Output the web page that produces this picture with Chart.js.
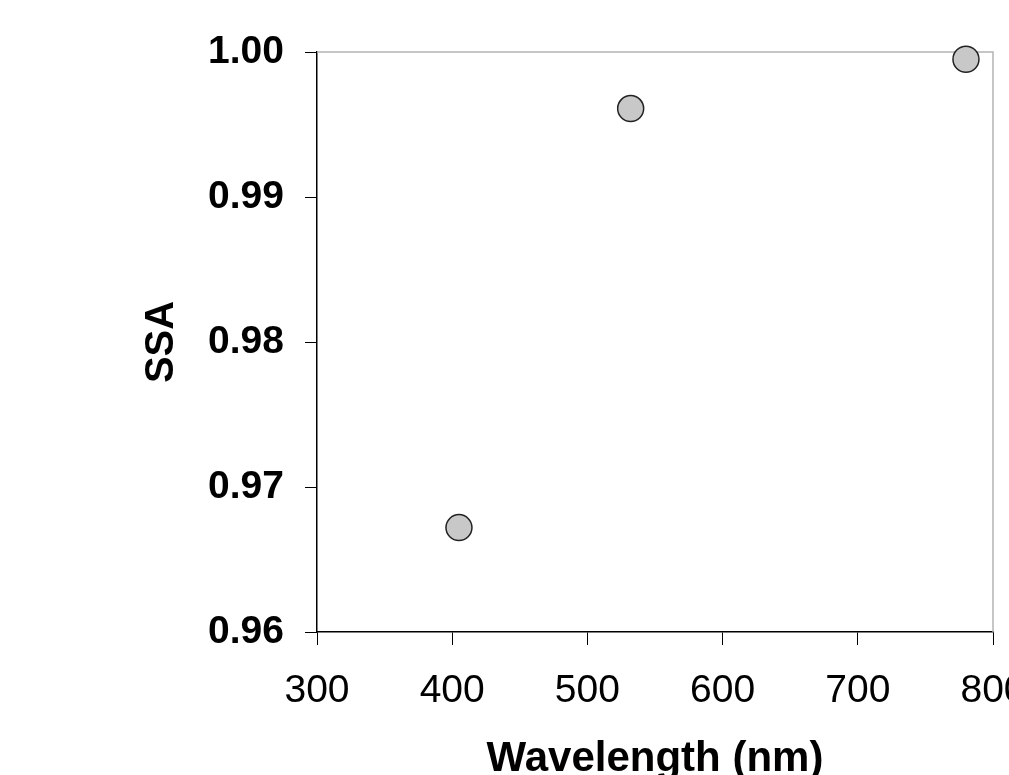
<!DOCTYPE html>
<html>
<head>
<meta charset="utf-8">
<script src="https://cdn.jsdelivr.net/npm/chart.js@4.4.1/dist/chart.umd.min.js"></script>
<style>
  html, body { margin: 0; padding: 0; background: #fff; overflow: hidden; }
  canvas { display: block; }
</style>
</head>
<body>
<canvas id="c" width="1009" height="775"></canvas>
<script>
// Data
const wavelengths = [405, 532, 780];          // nm
const ssaValues   = [0.9672, 0.9961, 0.9995]; // single scattering albedo
const xRange = [300, 800];
const xStep = 100;
const yRange = [0.96, 1.00];
const yStep = 0.01;
const xTitle = 'Wavelength (nm)';
const yTitle = 'SSA';

const points = wavelengths.map((w, i) => ({ x: w, y: ssaValues[i] }));

const frameLines = {
  id: 'frameLines',
  beforeDatasetsDraw(chart) {
    const { ctx, chartArea: a } = chart;
    ctx.save();
    ctx.strokeStyle = '#b4b4b4';
    ctx.lineWidth = 1.5;
    ctx.beginPath();
    ctx.moveTo(a.left, a.top);
    ctx.lineTo(a.right, a.top);
    ctx.lineTo(a.right, a.bottom);
    ctx.stroke();
    ctx.restore();
  }
};

new Chart(document.getElementById('c'), {
  type: 'scatter',
  data: {
    datasets: [{
      data: points,
      pointRadius: 13,
      pointHoverRadius: 13,
      pointBackgroundColor: '#c8c8c8',
      pointBorderColor: '#222',
      pointBorderWidth: 1.5,
      clip: false
    }]
  },
  options: {
    responsive: false,
    animation: false,
    events: [],
    layout: { padding: { top: 52, right: 16, left: 0, bottom: 0 } },
    plugins: { legend: { display: false }, tooltip: { enabled: false } },
    scales: {
      x: {
        type: 'linear',
        min: xRange[0], max: xRange[1],
        ticks: {
          stepSize: xStep,
          color: '#000',
          padding: 23,
          font: { family: 'Arial, "Liberation Sans", sans-serif', size: 39, weight: 'normal' },
          maxRotation: 0, autoSkip: false
        },
        grid: { drawOnChartArea: false, drawTicks: true, tickLength: 13, color: '#000' },
        border: { color: '#000', width: 1.5 },
        title: {
          display: true, text: xTitle, color: '#000',
          font: { family: 'Arial, "Liberation Sans", sans-serif', size: 42, weight: 'bold', lineHeight: 0.76 },
          padding: 0
        },
        afterFit(s) { s.height = 143; s.paddingLeft = 0; s.paddingRight = 0; }
      },
      y: {
        type: 'linear',
        min: yRange[0], max: yRange[1],
        ticks: {
          stepSize: yStep,
          color: '#000',
          padding: 21,
          font: { family: 'Arial, "Liberation Sans", sans-serif', size: 39, weight: 'bold' },
          callback: v => Number(v).toFixed(2)
        },
        grid: { drawOnChartArea: false, drawTicks: true, tickLength: 12, color: '#000' },
        border: { color: '#000', width: 1.5 },
        title: {
          display: true, text: yTitle, color: '#000',
          font: { family: 'Arial, "Liberation Sans", sans-serif', size: 40, weight: 'bold', lineHeight: 1.2 },
          padding: { top: 138, bottom: 0 }
        },
        afterFit(s) { s.width = 317; s.paddingTop = 0; s.paddingBottom = 0; }
      }
    }
  },
  plugins: [frameLines]
});
</script>
</body>
</html>
